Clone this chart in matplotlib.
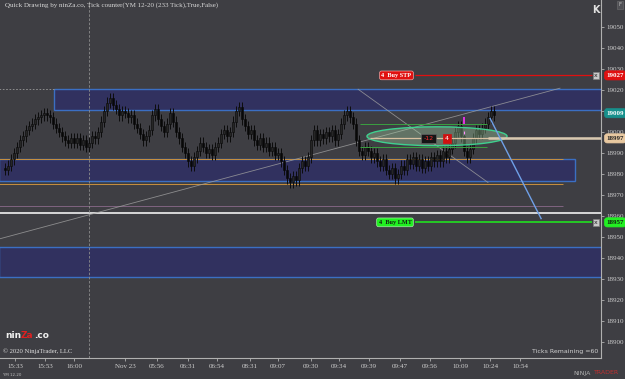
import matplotlib
matplotlib.use("Agg")
import matplotlib.pyplot as plt
from matplotlib.patches import Rectangle, Ellipse

# tick-chart closes, one bar every 3 px
closes = [18982, 18984, 18987, 18990, 18993, 18996, 18998, 19001, 19003, 19004,
          19006, 19007, 19008, 19009, 19008, 19007, 19004, 19002, 19000, 18998,
          18996, 18995, 18997, 18995, 18997, 18994, 18996, 18993, 18995, 18998,
          18997, 19000, 19005, 19010, 19014, 19016, 19013, 19011, 19008, 19010,
          19009, 19007, 19008, 19004, 19002, 18999, 18996, 18998, 19001, 19008,
          19011, 19006, 19003, 19000, 19004, 19009, 19005, 19000, 18997, 18993,
          18990, 18986, 18984, 18988, 18991, 18995, 18993, 18990, 18992, 18989,
          18993, 18995, 18999, 19001, 18998, 19000, 19005, 19010, 19012, 19006,
          19003, 18999, 19001, 18996, 18994, 18997, 18993, 18995, 18991, 18993,
          18989, 18990, 18986, 18982, 18978, 18976, 18979, 18977, 18983, 18986,
          18984, 18988, 18996, 19001, 18996, 18999, 18997, 19000, 18998, 19001,
          18996, 18999, 19004, 19008, 19010, 19007, 19004, 18996, 18991, 18989,
          18993, 18991, 18988, 18990, 18986, 18984, 18987, 18982, 18980, 18983,
          18978, 18980, 18984, 18982, 18987, 18985, 18988, 18984, 18987, 18983,
          18986, 18984, 18988, 18986, 18989, 18986, 18991, 18988, 18992, 18995,
          19000, 19003, 18998, 18991, 18988, 18992, 18997, 19001, 18999, 19002,
          19004, 19007, 19010, 19008]

time_pos = [3.33, 13.33, 23, 40, 50.67, 61, 70.67, 81.67, 91, 102, 111.33,
            121.33, 131.67, 141.67, 151.67, 161.67, 171.67]
time_labels = ["15:33", "15:53", "16:00", "Nov 23", "05:56", "06:31", "06:54",
               "08:31", "09:07", "09:30", "09:34", "09:39", "09:47", "09:56",
               "10:09", "10:24", "10:54"]
price_ticks = list(range(18900, 19051, 10))

# zones: (x start, x end, low, high)
zones = [(16.3, 199, 19010.5, 19020.5),
         (-2, 190, 18976.5, 18987),
         (-2, 199, 18931, 18945.5)]

stop_price = 19027
limit_price = 18957
last_price = 19009
avg_price = 18997

bg = "#3e3e43"
fig = plt.figure(figsize=(6.25, 3.79), dpi=100)
fig.patch.set_facecolor(bg)
ax = fig.add_axes([0, 21 / 379, 601 / 625, 358 / 379])
ax.set_facecolor(bg)
ax.set_xlim(-1.667, 198.67)
ax.set_ylim(18892.4, 19062.9)

for x0, x1, lo, hi in zones:
    ax.add_patch(Rectangle((x0, lo), x1 - x0, hi - lo, facecolor="#31315f",
                           edgecolor="#3b6fc3", lw=1.0, zorder=1))

ax.hlines([18987.4, 18975.5], -2, 186, color="#c8903e", lw=0.7, zorder=2)
ax.hlines(18965, -2, 186, color="#8a6a8a", lw=0.6, zorder=2)
ax.hlines(18961.6, -2, 199, color="#f0f0f0", lw=1.2, zorder=2)
ax.hlines(19020.4, -2, 16.3, color="#9a9a9a", lw=0.6, ls=(0, (2, 2)), zorder=2)
ax.axvline(28, color="#8c8c8c", lw=0.6, ls=(0, (3, 2)), zorder=2)

# trend lines
ax.plot([-1.667, 185], [18949.2, 19020.9], color="#a0a0a0", lw=0.6, alpha=0.8, zorder=2)
ax.plot([117.7, 161], [19020.4, 18976], color="#a0a0a0", lw=0.6, alpha=0.8, zorder=2)

# candles
for i, c in enumerate(closes):
    o = closes[i - 1] if i > 0 else c + 1
    lo, hi = min(o, c), max(o, c)
    ax.vlines(i, lo - 2.5, hi + 2.5, color="#0c0c0c", lw=0.7, zorder=3)
    ax.add_patch(Rectangle((i - 0.35, lo), 0.7, max(hi - lo, 0.5),
                           facecolor="#262626" if c > o else "#080808",
                           edgecolor="#080808", lw=0.4, zorder=3))

# position drawing
ax.add_patch(Ellipse((144, 18998), 46.7, 9, facecolor="#a6d8a6", alpha=0.35, zorder=4))
ax.add_patch(Ellipse((144, 18998), 46.7, 9, facecolor="none", edgecolor="#3fd08f", lw=1.0, zorder=4))
ax.hlines([19003.7, 18992.7], 118.3, 160.7, color="#3aa040", lw=0.7, zorder=4)
ax.hlines(avg_price, 121.7, 199, color="#d8c0a0", lw=0.9, zorder=4)
ax.hlines(avg_price, 161, 199, color="#d8c8b0", lw=1.8, zorder=4)
ax.vlines(153, 19004, 19007, color="#ff30ff", lw=1.2, zorder=5)
ax.vlines(153, 18999, 19000.5, color="#ff90ff", lw=0.8, zorder=5)
ax.plot([161.7, 178.7], [19006.5, 18958.8], color="#6fa0e8", lw=1.0, zorder=5)
ax.text(141.2, avg_price, "-12", color="#ff3030", fontsize=4.5, ha="center", va="center",
        family="DejaVu Sans", zorder=6,
        bbox=dict(boxstyle="square,pad=0.35", fc="#151515", ec="#606060", lw=0.5))
ax.text(147.3, avg_price, "4", color="white", fontsize=4.5, ha="center", va="center",
        family="DejaVu Sans", zorder=6,
        bbox=dict(boxstyle="square,pad=0.35", fc="#d01010", ec="#d01010", lw=0.5))

# order lines
ax.hlines(stop_price, 136.7, 195.7, color="#e01010", lw=0.9, zorder=5)
ax.hlines(limit_price, 136.7, 195.7, color="#20e020", lw=1.2, zorder=5)
ax.text(130.5, stop_price, "4  Buy STP", color="white", fontsize=4.5, weight="bold",
        ha="center", va="center", family="Liberation Serif", zorder=6,
        bbox=dict(boxstyle="round,pad=0.3,rounding_size=0.3", fc="#e01010", ec="#f0a0a0", lw=0.5))
ax.text(130, limit_price, "4  Buy LMT", color="#102010", fontsize=4.5, weight="bold",
        ha="center", va="center", family="Liberation Serif", zorder=6,
        bbox=dict(boxstyle="round,pad=0.3,rounding_size=0.3", fc="#20f020", ec="#a0f0a0", lw=0.5))
for p in (stop_price, limit_price):
    ax.text(197, p, "x", color="#202020", fontsize=4.5, ha="center", va="center", zorder=6,
            bbox=dict(boxstyle="square,pad=0.2", fc="#c8c8c8", ec="#808080", lw=0.5))

# axes styling
for s in ("top", "left"):
    ax.spines[s].set_visible(False)
ax.spines["right"].set_color("#b0b0b0")
ax.spines["bottom"].set_color("#b0b0b0")
ax.yaxis.tick_right()
ax.set_yticks(price_ticks)
# 19010 sits under the last-price marker
ax.set_yticklabels(["" if p == 19010 else str(p) for p in price_ticks])
ax.set_xticks(time_pos)
ax.set_xticklabels(time_labels)
ax.tick_params(axis="both", colors="#b0b0b0", labelcolor="#d0d0d0", length=2.5,
               width=0.6, labelsize=5, pad=1.5)
for lab in ax.get_xticklabels() + ax.get_yticklabels():
    lab.set_family("Liberation Serif")

# price markers on the axis
markers = [(stop_price, "#e01010", "white"), (last_price, "#17908c", "white"),
           (avg_price, "#e8c8a0", "#202020"), (limit_price, "#22f022", "#102010")]
for p, fc, tc in markers:
    ax.annotate(str(p), xy=(1.0, p), xycoords=("axes fraction", "data"),
                xytext=(4, 0), textcoords="offset points", fontsize=5, color=tc,
                ha="left", va="center", family="Liberation Serif", weight="bold",
                annotation_clip=False, zorder=7,
                bbox=dict(boxstyle="round,pad=0.3,rounding_size=0.4", fc=fc, ec=fc, lw=0.5))

# texts
fig.text(5 / 625, 1 - 5 / 379, "Quick Drawing by ninZa.co, Tick counter(YM 12-20 (233 Tick),True,False)",
         color="#d8d8d8", fontsize=5, family="Liberation Serif", va="center")
fig.text(596 / 625, 1 - 10 / 379, "K", color="#e0e0e0", fontsize=7, weight="bold",
         ha="center", va="center", family="DejaVu Sans")
fig.text(620 / 625, 1 - 5 / 379, "F", color="#c0c0c0", fontsize=4, ha="center", va="center",
         bbox=dict(boxstyle="square,pad=0.2", fc="#505055", ec="#707070", lw=0.4))
t1 = fig.text(5 / 625, 1 - 338 / 379, "nin", color="#f0f0f0", fontsize=6.5, weight="bold",
              va="baseline")
t2 = fig.text(0, 0, "Za", color="#e02020", fontsize=6.5, weight="bold", va="baseline")
t3 = fig.text(0, 0, ".co", color="#f0f0f0", fontsize=6.5, weight="bold", va="baseline")
fig.canvas.draw()
r = fig.canvas.get_renderer()
e1 = t1.get_window_extent(r)
t2.set_position((e1.x1 / fig.bbox.width, t1.get_position()[1]))
e2 = t2.get_window_extent(r)
t3.set_position((e2.x1 / fig.bbox.width, t1.get_position()[1]))
fig.text(3 / 625, 1 - 351 / 379, "\u00a9 2020 NinjaTrader, LLC", color="#e0e0e0", fontsize=4.8,
         family="Liberation Serif", va="center")
fig.text(598 / 625, 1 - 351 / 379, "Ticks Remaining =60", color="#d0d0d0", fontsize=4.5,
         ha="right", va="center")
fig.text(3 / 625, 1 - 375 / 379, "YM 12-20", color="#c0c0c0", fontsize=2.8, va="center")
fig.text(573 / 625, 1 - 373 / 379, "NINJA", color="#b0b0b0", fontsize=4.5, va="center")
fig.text(594 / 625, 1 - 373 / 379, "TRADER", color="#c03030", fontsize=4.5, va="center")

fig.savefig("out.png", dpi=100, facecolor=bg)
